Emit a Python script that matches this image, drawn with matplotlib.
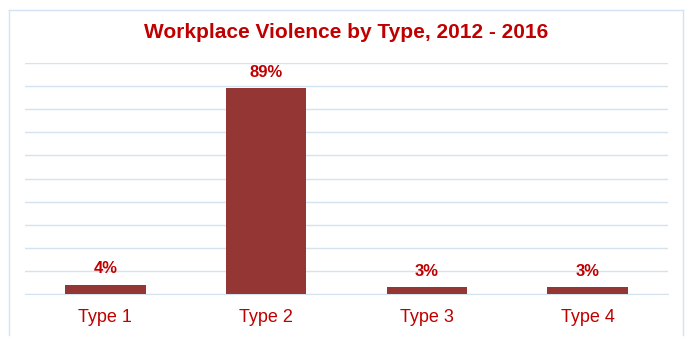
import matplotlib.pyplot as plt
from matplotlib.lines import Line2D

plt.rcParams['font.family'] = ['Liberation Sans', 'DejaVu Sans']

# data
types = ['Type 1', 'Type 2', 'Type 3', 'Type 4']
shares = [0.04, 0.89, 0.03, 0.03]
share_labels = ['4%', '89%', '3%', '3%']

bar_color = '#943634'
text_red = '#c00000'
grid_color = '#d5e3f1'

fig = plt.figure(figsize=(6.93, 3.45), dpi=100)
ax = fig.add_axes([25 / 693, 51 / 345, 643 / 693, 231 / 345])

x = range(len(types))
bars = ax.bar(x, shares, width=0.5, color=bar_color, zorder=3)

for b, lab in zip(bars, share_labels):
    ax.annotate(lab, (b.get_x() + b.get_width() / 2, b.get_height()),
                xytext=(0, 6), textcoords='offset points',
                ha='center', va='bottom', fontsize=12, fontweight='bold',
                color=text_red)

ax.set_xlim(-0.5, 3.5)
ax.set_ylim(0, 1.0)
ax.set_yticks([i / 10 for i in range(11)])
ax.yaxis.grid(True, color=grid_color, linewidth=1)
ax.set_axisbelow(True)
ax.tick_params(left=False, labelleft=False, bottom=False)
ax.set_xticks(list(x))
ax.set_xticklabels(types, fontsize=13, color=text_red)
ax.tick_params(axis='x', pad=7)
for s in ['left', 'right', 'top']:
    ax.spines[s].set_visible(False)
ax.spines['bottom'].set_color(grid_color)

fig.text(0.5, 1 - 33 / 345, 'Workplace Violence by Type, 2012 - 2016',
         ha='center', va='center', fontsize=15, fontweight='bold', color=text_red)

# outer chart frame (open at the bottom)
frame_color = '#d3e3f3'
l, r = 9 / 693, 683 / 693
t, b = 1 - 10 / 345, 1 - 335 / 345
fig.add_artist(Line2D([l, r], [t, t], color=frame_color, lw=1))
fig.add_artist(Line2D([l, l], [t, b], color=frame_color, lw=1))
fig.add_artist(Line2D([r, r], [t, b], color=frame_color, lw=1))

fig.savefig('out.png', dpi=100)
